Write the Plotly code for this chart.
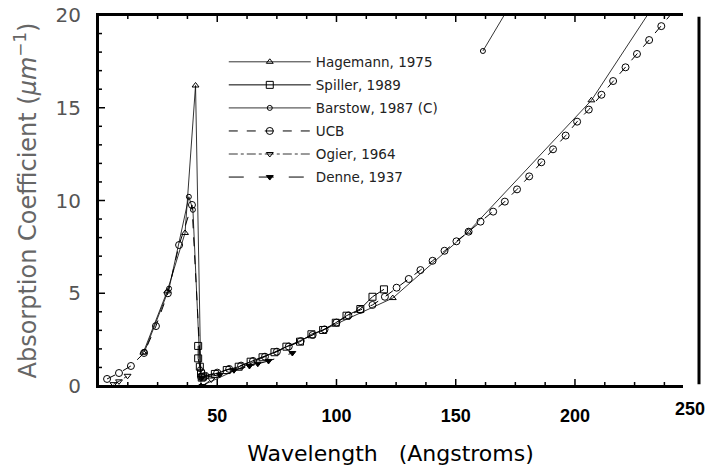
import plotly.graph_objects as go

# ---------------- data ----------------
hag_x = [19.0, 29.0, 36.5, 40.9, 43.2, 123.6, 155.3, 206.9, 235.0]
hag_y = [1.80, 5.10, 8.25, 16.2, 0.00, 4.74, 8.32, 15.4, 20.9]

spi_x = [42.0, 42.0, 42.7, 43.2, 43.5, 44.0, 49.0, 54.0, 59.0, 64.0, 69.0, 74.0, 79.0,
         84.7, 89.5, 94.4, 99.7, 104.2, 110.0, 115.1, 119.9]
spi_y = [2.16, 1.49, 1.04, 0.68, 0.45, 0.50, 0.65, 0.86, 1.04, 1.31, 1.55, 1.82, 2.12,
         2.39, 2.79, 3.02, 3.41, 3.79, 4.15, 4.81, 5.21]

bar_x = [19.5, 29.8, 38.1, 39.8, 42.8, None, 161.4, 175.0]
bar_y = [1.85, 5.25, 10.2, 9.5, 0.9, None, 18.06, 21.0]

ucb_x = [3.8, 8.8, 13.8, 19.3, 24.3, 29.3, 34.0, 39.4, 43.2, 45.0, 50.0, 55.0, 60.0, 65.0,
         70.0, 75.0, 80.0, 85.0, 90.0, 95.0, 100.0, 105.0, 110.0, 115.1, 120.3, 125.2,
         130.3, 135.2, 140.3, 145.3, 150.3, 155.4, 160.4, 165.7, 170.6, 175.7, 180.8,
         185.9, 190.8, 196.1, 200.9, 205.8, 211.1, 216.0, 221.2, 226.0, 231.1, 236.2, 242.0]
ucb_y = [0.38, 0.70, 1.08, 1.78, 3.23, 5.00, 7.60, 9.76, 0.50, 0.55, 0.72, 0.92, 1.10, 1.35,
         1.58, 1.85, 2.13, 2.42, 2.75, 3.05, 3.42, 3.80, 4.10, 4.37, 4.81, 5.30,
         5.77, 6.25, 6.75, 7.29, 7.80, 8.32, 8.86, 9.40, 9.94, 10.60, 11.30,
         12.06, 12.76, 13.50, 14.25, 14.90, 15.70, 16.44, 17.18, 17.90, 18.65, 19.40, 20.3]

ogi_x = [6.5, 8.8, 12.4, None, 43.8, 47.5]
ogi_y = [0.10, 0.25, 0.55, None, 0.00, 0.35]

den_x = [43.5, 51.0, 57.0, 63.5, 67.0, 71.5, 81.5]
den_y = [0.45, 0.60, 0.85, 1.08, 1.20, 1.35, 1.78]

x_ticks = [50, 100, 150, 200]
y_ticks = [0, 5, 10, 15, 20]
x_minor_step = 12.5
y_minor_step = 1.0

X_MAX = 245.3
Y_MAX = 20.0

# plot-area geometry (pixels)
M_L, M_R, M_T, M_B = 98, 33, 15, 80
W, H = 716, 466
PW, PH = W - M_L - M_R, H - M_T - M_B
MAJ_LEN, MIN_LEN = 7, 4

# ---------------- figure ----------------
fig = go.Figure()

def add(name, x, y, symbol, size, dash, width=1.0):
    fig.add_trace(go.Scatter(
        x=x, y=y, name=name, mode="lines+markers", legendgroup=name,
        line=dict(color="black", width=width, dash=dash),
        marker=dict(symbol=symbol, size=size, color="black",
                    line=dict(color="black", width=1)),
        connectgaps=False,
    ))

add("Hagemann, 1975", hag_x, hag_y, "triangle-up-open", 6, "solid", 0.8)
add("Spiller, 1989", spi_x, spi_y, "square-open", 7, "solid", 1.0)
add("Barstow, 1987 (C)", bar_x, bar_y, "circle-open", 5, "solid", 0.8)
add("UCB", ucb_x, ucb_y, "circle-open", 7, "dash", 1.0)
add("Ogier, 1964", ogi_x, ogi_y, "triangle-down-open", 6, "dashdot", 0.8)
add("Denne, 1937", den_x, den_y, "triangle-down", 6, "longdash", 1.0)

fig.update_layout(
    width=W, height=H,
    margin=dict(l=M_L, r=M_R, t=M_T, b=M_B, autoexpand=False),
    paper_bgcolor="white", plot_bgcolor="white",
    showlegend=True,
    legend=dict(x=0.215, y=0.915, xanchor="left", yanchor="top",
                bgcolor="rgba(0,0,0,0)", borderwidth=0,
                font=dict(family="DejaVu Sans", size=13.5, color="#222"),
                itemwidth=82, tracegroupgap=2.5),
    font=dict(family="Liberation Sans", color="black"),
)

fig.update_xaxes(
    range=[0, X_MAX], tickvals=x_ticks, ticktext=["<b>%d</b>" % v for v in x_ticks],
    showgrid=False, zeroline=False,
    showline=True, linecolor="black", linewidth=2, mirror=True, ticks="",
    tickfont=dict(family="Liberation Sans", size=18, color="black"),
    ticklabelstandoff=12,
    title=dict(text="Wavelength   (Angstroms)", standoff=28,
               font=dict(family="DejaVu Sans", size=22, color="black")),
)

fig.update_yaxes(
    range=[0, Y_MAX], tickvals=y_ticks,
    showgrid=False, zeroline=False,
    showline=True, linecolor="black", linewidth=2, mirror=False, ticks="",
    tickfont=dict(family="DejaVu Sans", size=20, color="#555"),
    ticklabelstandoff=11,
    title=dict(text="Absorption Coefficient (<i>μm</i><sup>−1</sup>)", standoff=12,
               font=dict(family="DejaVu Sans", size=24, color="#666")),
)

# ---- axis frame (bottom, top, left) ----
frame = dict(color="black", width=2)
fig.add_shape(type="line", xref="paper", yref="paper", x0=0, x1=1, y0=0, y1=0, line=frame)
fig.add_shape(type="line", xref="paper", yref="paper", x0=0, x1=1, y0=1, y1=1, line=frame)
fig.add_shape(type="line", xref="paper", yref="paper", x0=0, x1=0, y0=0, y1=1, line=frame)

# ---- inside tick marks (bottom + top mirrored, left) ----
tick_line = dict(color="black", width=1.5)
n_xminor = int(X_MAX // x_minor_step)
for i in range(1, n_xminor + 1):
    xv = i * x_minor_step
    ln = MAJ_LEN if xv in x_ticks else MIN_LEN
    h = ln / PH
    fig.add_shape(type="line", xref="paper", yref="paper", x0=xv / X_MAX, x1=xv / X_MAX,
                  y0=0, y1=h, line=tick_line)
    fig.add_shape(type="line", xref="paper", yref="paper", x0=xv / X_MAX, x1=xv / X_MAX,
                  y0=1, y1=1 - h, line=tick_line)

n_yminor = int(Y_MAX // y_minor_step)
for i in range(1, n_yminor):
    yv = i * y_minor_step
    ln = MAJ_LEN if yv in y_ticks else MIN_LEN
    fig.add_shape(type="line", xref="paper", yref="paper", x0=0, x1=ln / PW,
                  y0=yv / Y_MAX, y1=yv / Y_MAX, line=tick_line)

# "250" label at the far end of the x axis (just past the axis range)
fig.add_annotation(x=(690 - M_L) / PW, y=0, xref="paper", yref="paper", text="<b>250</b>",
                   showarrow=False, xanchor="center", yanchor="top", yshift=-11,
                   font=dict(family="Liberation Sans", size=18, color="black"))

# thick vertical bar at the right edge
fig.add_shape(type="line", xref="paper", yref="paper", x0=(699 - M_L) / PW, x1=(699 - M_L) / PW,
              y0=0.005, y1=0.995, line=dict(color="black", width=3))

fig.write_html("out.html")
